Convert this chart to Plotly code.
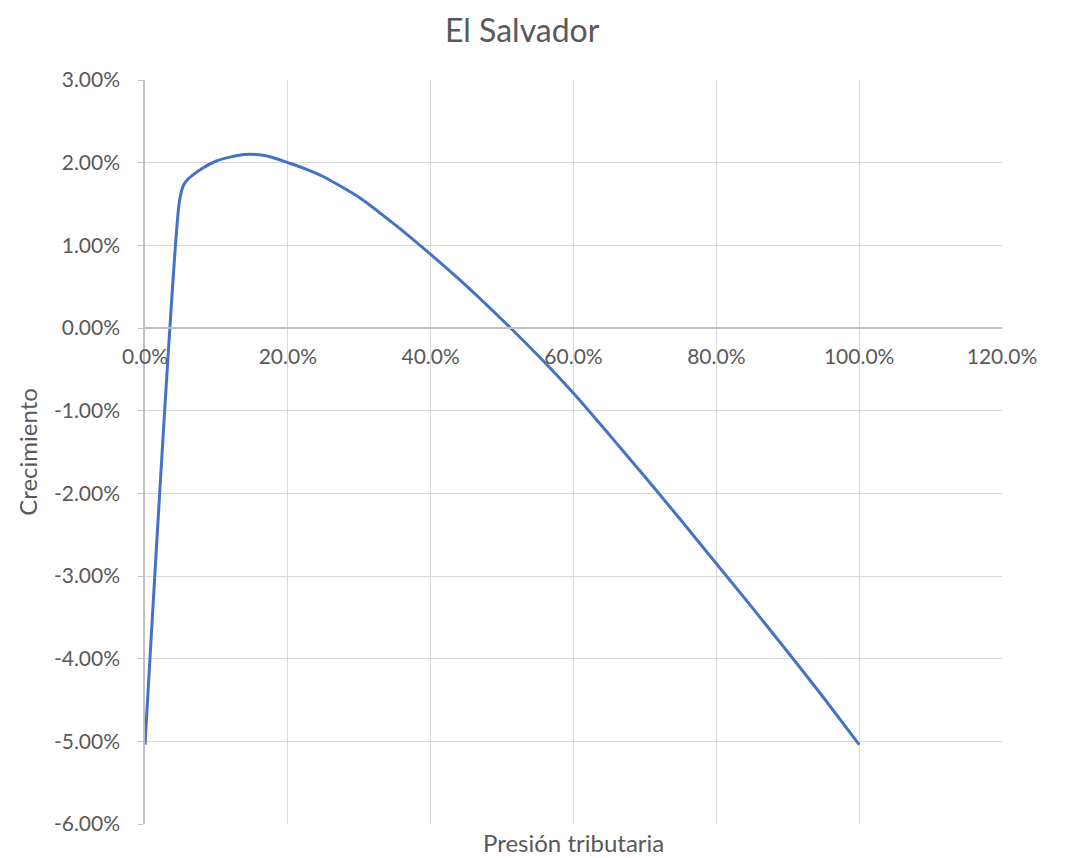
import plotly.graph_objects as go

# Presión tributaria (fraction) and Crecimiento (fraction)
presion = [0.0, 0.048, 0.054, 0.06, 0.07, 0.08, 0.10, 0.12, 0.14, 0.16, 0.18, 0.20,
           0.22, 0.25, 0.30, 0.35, 0.40, 0.45, 0.50, 0.55, 0.60, 0.65, 0.70, 0.75,
           0.80, 0.85, 0.90, 0.95, 1.00]
crecimiento = [-0.0504, 0.0152, 0.0173, 0.0180, 0.0187, 0.0193, 0.0202, 0.0207, 0.0210,
               0.02095, 0.0206, 0.0200, 0.0194, 0.0183, 0.0158, 0.0125, 0.0089, 0.0051,
               0.0010, -0.0033, -0.0079, -0.0129, -0.0180, -0.0232, -0.0285, -0.0338,
               -0.0392, -0.0447, -0.0504]

y_tickvals = [0.03, 0.02, 0.01, 0.0, -0.01, -0.02, -0.03, -0.04, -0.05, -0.06]
y_ticktext = ["3.00%", "2.00%", "1.00%", "0.00%", "-1.00%", "-2.00%", "-3.00%",
              "-4.00%", "-5.00%", "-6.00%"]
x_tickvals = [0.0, 0.2, 0.4, 0.6, 0.8, 1.0, 1.2]
x_ticktext = ["0.0%", "20.0%", "40.0%", "60.0%", "80.0%", "100.0%", "120.0%"]

title_text = "El Salvador"
x_title = "Presión tributaria"
y_title = "Crecimiento"

FONT = "Lato"
TXT = "#595959"
GRID = "#D9D9D9"

fig = go.Figure()
fig.add_trace(go.Scatter(x=presion, y=crecimiento, mode="lines",
                         line=dict(color="#4472C4", width=3, shape="spline", smoothing=0.6),
                         showlegend=False))

y_min, y_max = -0.06, 0.03

# the page body adds an 8px offset; the figure is sized to compensate
fig.update_layout(
    width=1058, height=850,
    margin=dict(l=137, r=64, t=72, b=34),
    paper_bgcolor="white", plot_bgcolor="white",
    font=dict(family=FONT, color=TXT, size=21),
    title=dict(text=title_text, x=0.486, xanchor="center", y=0.986, yanchor="top",
               font=dict(family=FONT, size=32, color=TXT)),
    xaxis=dict(range=[0, 1.2], tickvals=x_tickvals, ticktext=x_ticktext,
               showgrid=True, gridcolor=GRID, gridwidth=1,
               showline=True, linecolor="#BFBFBF", linewidth=1.5,
               zeroline=False, anchor="free", position=(0 - y_min) / (y_max - y_min),
               ticks="", ticklabelstandoff=10, automargin=False,
               tickfont=dict(family=FONT, size=21, color=TXT)),
    yaxis=dict(range=[y_min, y_max], tickvals=y_tickvals, ticktext=y_ticktext,
               showgrid=True, gridcolor=GRID, gridwidth=1,
               showline=True, linecolor="#BFBFBF", linewidth=1.5,
               zeroline=False, ticks="outside", ticklen=5, tickcolor="#BFBFBF",
               ticklabelstandoff=14, automargin=False,
               tickfont=dict(family=FONT, size=21, color=TXT),
               title=dict(text=y_title, standoff=10,
                          font=dict(family=FONT, size=24, color=TXT))),
)

fig.add_annotation(text=x_title, xref="paper", yref="paper", x=0.5, y=0,
                   xanchor="center", yanchor="top", yshift=-3, borderpad=0,
                   showarrow=False, font=dict(family=FONT, size=24, color=TXT))

fig.write_html("out.html")
